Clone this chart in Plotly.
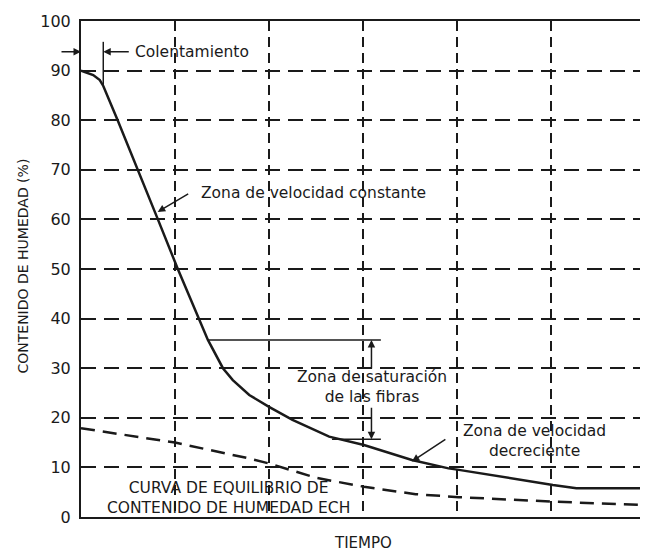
import plotly.graph_objects as go

# --- data ---
time_solid = [0, 0.13, 0.2, 0.237, 0.39, 0.60, 0.818, 1.03, 1.255, 1.35, 1.51, 1.615, 1.79, 2.0, 2.25, 2.64, 3.01, 3.52, 3.91, 4.02, 5.02, 5.27, 6.0]
moisture_solid = [90, 89.1, 88.1, 86.9, 80, 70, 60, 50, 40, 35.7, 30, 27.6, 24.6, 22.2, 19.6, 16.2, 14.5, 11.5, 9.8, 9.5, 6.45, 5.8, 5.8]

time_eq = [0, 1.0, 1.79, 2.0, 2.5, 3.01, 3.56, 4.02, 5.02, 6.0]
moisture_eq = [17.9, 15.0, 11.8, 10.8, 7.9, 6.1, 4.6, 4.0, 3.1, 2.4]

y_ticks = [0, 10, 20, 30, 40, 50, 60, 70, 80, 90, 100]
x_grid = [1, 2, 3, 4, 5]

INK = "#1a1a1a"
FONT = "DejaVu Sans"

fig = go.Figure()
fig.add_trace(go.Scatter(x=time_solid, y=moisture_solid, mode="lines",
                         line=dict(color=INK, width=2.5), showlegend=False, hoverinfo="skip"))
fig.add_trace(go.Scatter(x=time_eq, y=moisture_eq, mode="lines",
                         line=dict(color=INK, width=2.5, dash="14px,8px"), showlegend=False, hoverinfo="skip"))

# the page body adds an 8px margin, so the figure is 8px smaller and margins reduced
fig.update_layout(
    width=640, height=544,
    margin=dict(l=73, r=1, t=13, b=35),
    paper_bgcolor="white", plot_bgcolor="white",
    font=dict(family=FONT, color=INK),
    xaxis=dict(range=[0, 6], tickmode="array", tickvals=x_grid, showticklabels=False,
               ticks="", showgrid=True, gridcolor=INK, gridwidth=1.8, griddash="10px,6px",
               showline=True, linecolor=INK, linewidth=2, mirror=True, zeroline=False),
    yaxis=dict(range=[0, 100], tickmode="array", tickvals=y_ticks, ticktext=[str(v) for v in y_ticks],
               tickfont=dict(size=16, family=FONT, color=INK), ticks="", ticklabelstandoff=5,
               showgrid=True, gridcolor=INK, gridwidth=1.8, griddash="15px,8px",
               showline=True, linecolor=INK, linewidth=2, mirror=True, zeroline=False),
)

ann = []
# axis titles
ann.append(dict(text="TIEMPO", xref="paper", yref="paper", x=0.5, y=0, yshift=-26,
                showarrow=False, font=dict(size=15), xanchor="center", yanchor="middle"))
ann.append(dict(text="CONTENIDO DE HUMEDAD (%)", xref="paper", yref="paper", x=0, y=0.505,
                xshift=-58, showarrow=False, textangle=-90, font=dict(size=14),
                xanchor="center", yanchor="middle"))
# Calentamiento
ann.append(dict(text="", x=0, y=93.8, ax=-21, ay=0, showarrow=True, arrowhead=2,
                arrowsize=1, arrowwidth=1.5, arrowcolor=INK))
ann.append(dict(text="", x=0.237, y=93.8, ax=27, ay=0, showarrow=True, arrowhead=2,
                arrowsize=1, arrowwidth=1.5, arrowcolor=INK))
ann.append(dict(text="Colentamiento", x=0.55, y=93.8, showarrow=False, xanchor="left",
                yanchor="middle", font=dict(size=15.5)))
# constant rate zone
ann.append(dict(text="Zona de velocidad constante", x=1.25, y=65.3, showarrow=False,
                xanchor="left", yanchor="middle", font=dict(size=15.5)))
ann.append(dict(text="", x=0.816, y=61.5, ax=32, ay=-19, showarrow=True, arrowhead=2,
                arrowsize=1, arrowwidth=1.5, arrowcolor=INK))
# fibre saturation zone
ann.append(dict(text="Zona de saturación<br>de las fibras", x=3.1, y=26.2, showarrow=False,
                xanchor="center", yanchor="middle", font=dict(size=15.5)))
ann.append(dict(text="", x=3.09, y=35.7, ax=0, ay=30, showarrow=True, arrowhead=2,
                arrowsize=1, arrowwidth=1.5, arrowcolor=INK))
ann.append(dict(text="", x=3.09, y=15.7, ax=0, ay=-33, showarrow=True, arrowhead=2,
                arrowsize=1, arrowwidth=1.5, arrowcolor=INK))
# falling rate zone
ann.append(dict(text="Zona de velocidad<br>decreciente", x=4.82, y=15.3, showarrow=False,
                xanchor="center", yanchor="middle", font=dict(size=15.5)))
ann.append(dict(text="", x=3.52, y=11.2, ax=35, ay=-23, showarrow=True, arrowhead=2,
                arrowsize=1, arrowwidth=1.5, arrowcolor=INK))
# equilibrium curve label
ann.append(dict(text="CURVA DE EQUILIBRIO DE<br>CONTENIDO DE HUMEDAD ECH", x=1.57, y=3.9,
                showarrow=False, xanchor="center", yanchor="middle", font=dict(size=15.5)))
fig.update_layout(annotations=ann)

shapes = [
    dict(type="line", x0=0.237, x1=0.237, y0=95.8, y1=86.9, line=dict(color=INK, width=1.5)),
    dict(type="line", x0=1.346, x1=3.19, y0=35.7, y1=35.7, line=dict(color=INK, width=1.5)),
    dict(type="line", x0=2.67, x1=3.19, y0=15.7, y1=15.7, line=dict(color=INK, width=1.5)),
]
fig.update_layout(shapes=shapes)

fig.write_html("out.html")
